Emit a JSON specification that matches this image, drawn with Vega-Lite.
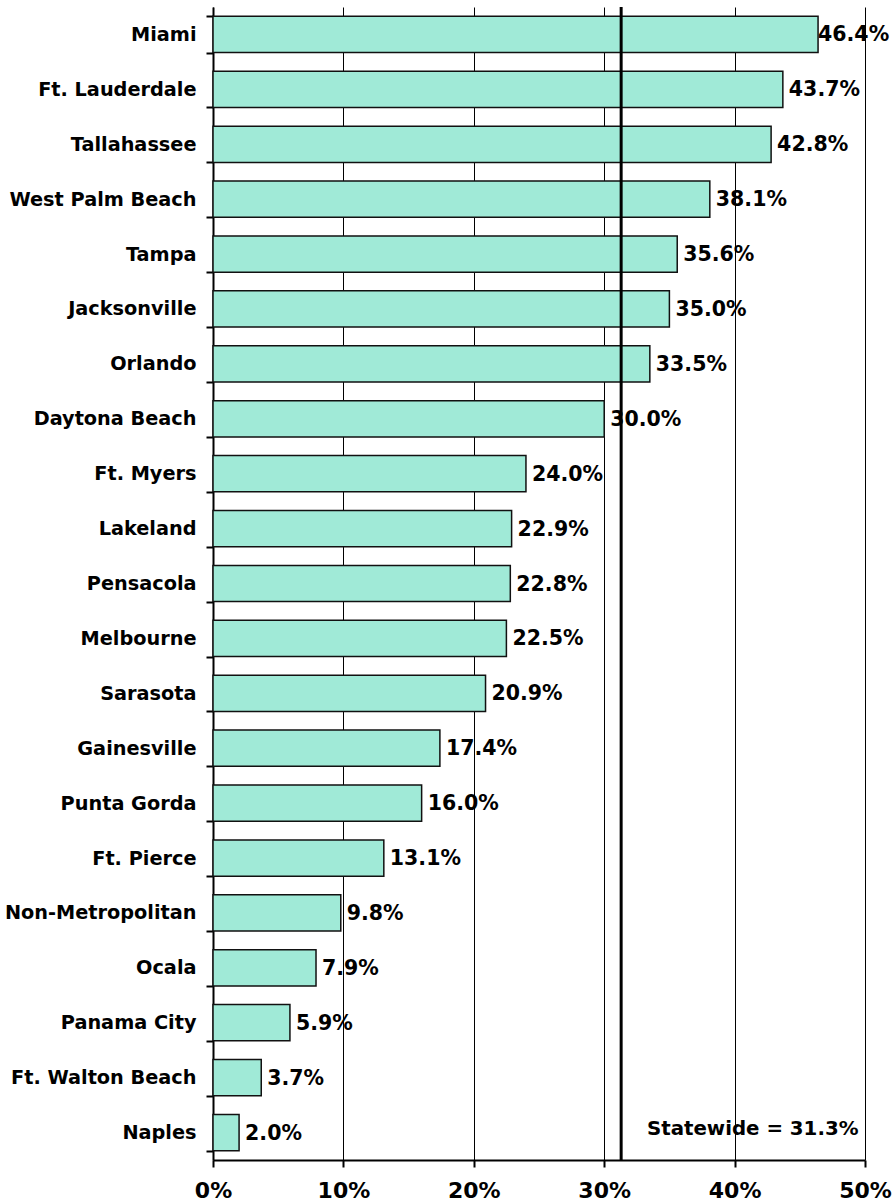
{
  "$schema": "https://vega.github.io/schema/vega-lite/v6.json",
  "width": 652,
  "height": 1153,
  "autosize": "none",
  "padding": {"left": 213, "top": 7, "right": 27, "bottom": 43},
  "background": "white",
  "config": {
    "view": {"stroke": null},
    "font": "DejaVu Sans"
  },
  "datasets": {
    "cities": [
      {"city": "Miami", "rate": 0.464},
      {"city": "Ft. Lauderdale", "rate": 0.437},
      {"city": "Tallahassee", "rate": 0.428},
      {"city": "West Palm Beach", "rate": 0.381},
      {"city": "Tampa", "rate": 0.356},
      {"city": "Jacksonville", "rate": 0.350},
      {"city": "Orlando", "rate": 0.335},
      {"city": "Daytona Beach", "rate": 0.300},
      {"city": "Ft. Myers", "rate": 0.240},
      {"city": "Lakeland", "rate": 0.229},
      {"city": "Pensacola", "rate": 0.228},
      {"city": "Melbourne", "rate": 0.225},
      {"city": "Sarasota", "rate": 0.209},
      {"city": "Gainesville", "rate": 0.174},
      {"city": "Punta Gorda", "rate": 0.160},
      {"city": "Ft. Pierce", "rate": 0.131},
      {"city": "Non-Metropolitan", "rate": 0.098},
      {"city": "Ocala", "rate": 0.079},
      {"city": "Panama City", "rate": 0.059},
      {"city": "Ft. Walton Beach", "rate": 0.037},
      {"city": "Naples", "rate": 0.020}
    ],
    "statewide": [
      {"label": "Statewide = 31.3%", "rate": 0.313, "labelPos": 0.495, "city": "Naples"}
    ]
  },
  "layer": [
    {
      "data": {"name": "cities"},
      "mark": {"type": "bar", "fill": "#A0EAD7", "stroke": "#111111", "strokeWidth": 1.5},
      "encoding": {
        "y": {
          "field": "city", "type": "nominal", "sort": null,
          "scale": {"paddingInner": 0.34, "paddingOuter": 0.17},
          "axis": {
            "title": null,
            "tickBand": "extent",
            "domainColor": "black", "domainWidth": 2,
            "tickColor": "black", "tickWidth": 2, "tickSize": 7,
            "labelFont": "DejaVu Sans", "labelFontWeight": "bold", "labelFontSize": 19.3,
            "labelColor": "black", "labelPadding": 10, "labelLimit": 300
          }
        },
        "x": {
          "field": "rate", "type": "quantitative",
          "scale": {"domain": [0, 0.5], "nice": false},
          "axis": {
            "title": null, "format": "%", "values": [0, 0.1, 0.2, 0.3, 0.4, 0.5],
            "grid": true, "gridColor": "black", "gridWidth": 1, "gridOpacity": 1,
            "domainColor": "black", "domainWidth": 2,
            "tickColor": "black", "tickWidth": 2, "tickSize": 7,
            "labelFont": "DejaVu Sans", "labelFontWeight": "bold", "labelFontSize": 22,
            "labelColor": "black", "labelPadding": 13, "labelFlush": false
          }
        }
      }
    },
    {
      "data": {"name": "cities"},
      "mark": {"type": "text", "align": "left", "baseline": "middle", "dx": {"expr": "datum.rate > 0.45 ? 0 : 6"}, "dy": 1,
               "font": "DejaVu Sans", "fontWeight": "bold", "fontSize": 20.5, "color": "black"},
      "encoding": {
        "y": {"field": "city", "type": "nominal", "sort": null},
        "x": {"field": "rate", "type": "quantitative"},
        "text": {"field": "rate", "type": "quantitative", "format": ".1%"}
      }
    },
    {
      "data": {"name": "statewide"},
      "mark": {"type": "rule", "color": "black", "strokeWidth": 3},
      "encoding": {
        "x": {"field": "rate", "type": "quantitative"}
      }
    },
    {
      "data": {"name": "statewide"},
      "mark": {"type": "text", "align": "right", "baseline": "middle", "dy": -4,
               "font": "DejaVu Sans", "fontWeight": "bold", "fontSize": 19.8, "color": "black"},
      "encoding": {
        "y": {"field": "city", "type": "nominal", "sort": null},
        "x": {"field": "labelPos", "type": "quantitative"},
        "text": {"field": "label"}
      }
    }
  ]
}
